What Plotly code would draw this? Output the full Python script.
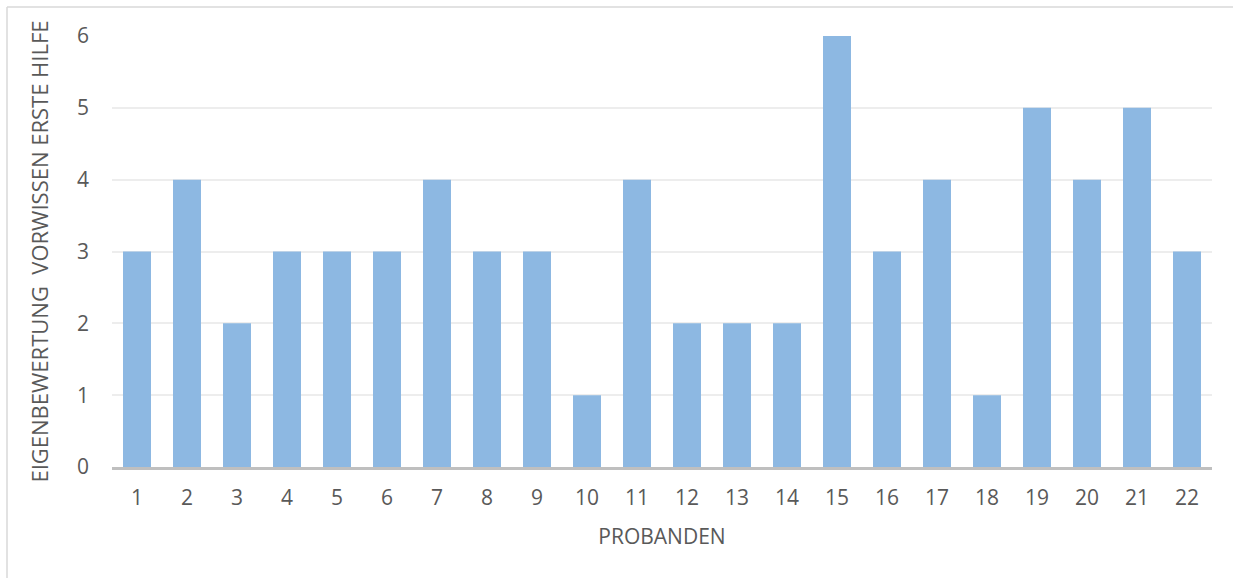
import plotly.graph_objects as go

# Probanden and their self-rated prior knowledge of first aid
probanden = [str(i) for i in range(1, 23)]
bewertung = [3, 4, 2, 3, 3, 3, 4, 3, 3, 1, 4, 2, 2, 2, 6, 3, 4, 1, 5, 4, 5, 3]
y_ticks = [0, 1, 2, 3, 4, 5, 6]

W, H = 1234, 578
L, R, T, B = 112, 22, 36, 111

fig = go.Figure(
    go.Bar(
        x=probanden,
        y=bewertung,
        marker=dict(color="#8DB8E2", line=dict(width=0)),
        width=0.56,
    )
)

def px_x(p):
    return (p - L) / (W - L - R)

def px_y(p):
    return 1 - (p - T) / (H - T - B)

# Outer chart frame
frame = dict(type="line", xref="paper", yref="paper", line=dict(color="#D9D9D9", width=1.5))
fig.add_shape(**frame, x0=px_x(7), x1=px_x(1233), y0=px_y(7), y1=px_y(7))
fig.add_shape(**frame, x0=px_x(7), x1=px_x(7), y0=px_y(7), y1=px_y(580))

font_family = "Open Sans, Liberation Sans, sans-serif"
txt = "#595959"

fig.update_layout(
    width=W,
    height=H,
    margin=dict(l=L, r=R, t=T, b=B),
    paper_bgcolor="white",
    plot_bgcolor="white",
    showlegend=False,
    font=dict(family=font_family, color=txt, size=21),
    bargap=0.44,
    xaxis=dict(
        type="category",
        showgrid=False,
        showline=True,
        linecolor="#BFBFBF",
        linewidth=3,
        ticks="",
        ticklabelstandoff=10,
        tickfont=dict(size=21, color=txt),
        title=dict(text="PROBANDEN", font=dict(size=21, color=txt), standoff=20),
    ),
    yaxis=dict(
        range=[0, 6],
        tickvals=y_ticks,
        showgrid=True,
        gridcolor="#EDEDED",
        gridwidth=1.5,
        zeroline=False,
        showline=False,
        ticks="",
        ticklabelstandoff=22,
        tickfont=dict(size=21, color=txt),
        title=dict(text="EIGENBEWERTUNG  VORWISSEN ERSTE HILFE",
                   font=dict(size=22, color=txt), standoff=22),
    ),
)

fig.write_html("out.html")
